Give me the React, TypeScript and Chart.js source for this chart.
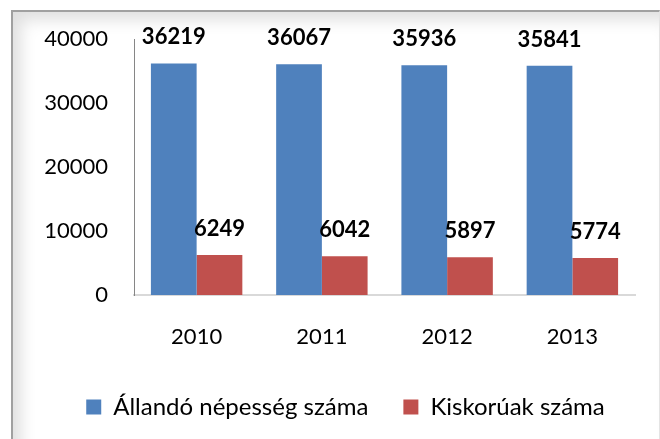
import React, { useEffect, useRef } from "react";
import { Chart, registerables } from "chart.js";

Chart.register(...registerables);

const categories = ["2010", "2011", "2012", "2013"];
const seriesNames = ["Állandó népesség száma", "Kiskorúak száma"];
const populationValues = [36219, 36067, 35936, 35841];
const minorValues = [6249, 6042, 5897, 5774];
const yTicks = [0, 10000, 20000, 30000, 40000];

const FONT = "Lato, 'Open Sans', 'Liberation Sans', sans-serif";
const LEGEND_SHIFT = 28;

const dataLabelPlugin = {
  id: "dataLabels",
  afterDatasetsDraw(chart: any) {
    const ctx = chart.ctx;
    ctx.save();
    ctx.font = `bold 22px ${FONT}`;
    ctx.fillStyle = "#000000";
    ctx.textAlign = "center";
    ctx.textBaseline = "middle";
    chart.data.datasets.forEach((ds: any, di: number) => {
      const meta = chart.getDatasetMeta(di);
      meta.data.forEach((bar: any, i: number) => {
        ctx.fillText(String(ds.data[i]), bar.x, bar.y - 26);
      });
    });
    ctx.restore();
  },
};

const legendShiftPlugin = {
  id: "legendShift",
  afterLayout(chart: any) {
    if (chart.legend) {
      chart.legend.left += LEGEND_SHIFT;
      chart.legend.right += LEGEND_SHIFT;
    }
  },
};

export default function App() {
  const ref = useRef<HTMLCanvasElement | null>(null);
  useEffect(() => {
    if (!ref.current) return;
    const chart = new Chart(ref.current, {
      type: "bar",
      data: {
        labels: categories,
        datasets: [
          {
            label: seriesNames[0],
            data: populationValues,
            backgroundColor: "#4F81BD",
            categoryPercentage: 0.73,
            barPercentage: 1,
          },
          {
            label: seriesNames[1],
            data: minorValues,
            backgroundColor: "#C0504D",
            categoryPercentage: 0.73,
            barPercentage: 1,
          },
        ],
      },
      options: {
        animation: false,
        responsive: false,
        layout: { padding: { left: 0, right: 25, top: 39, bottom: 10 } },
        plugins: {
          legend: {
            position: "bottom",
            labels: {
              boxWidth: 15,
              boxHeight: 15,
              padding: 35,
              color: "#000000",
              font: { family: FONT, size: 24 },
            },
          },
          tooltip: { enabled: false },
        },
        scales: {
          x: {
            grid: { display: false, drawTicks: false },
            border: { display: true, color: "#D9D9D9", width: 2 },
            ticks: {
              padding: 29,
              color: "#000000",
              font: { family: FONT, size: 22 },
            },
            afterFit: (s: any) => {
              s.height = 65;
            },
          },
          y: {
            min: 0,
            max: 40000,
            grid: { display: false, drawTicks: false },
            border: { display: true, color: "#868686", width: 1 },
            afterBuildTicks: (s: any) => {
              s.ticks = yTicks.map((v) => ({ value: v }));
            },
            ticks: {
              padding: 26,
              color: "#000000",
              font: { family: FONT, size: 22 },
              callback: (v: any) => String(v),
            },
            afterFit: (s: any) => {
              s.width = 134;
            },
          },
        },
      },
      plugins: [dataLabelPlugin, legendShiftPlugin],
    });
    return () => chart.destroy();
  }, []);

  return (
    <div
      style={{
        position: "fixed",
        left: 0,
        top: 0,
        width: 660,
        height: 439,
        background: "#ffffff",
        overflow: "hidden",
      }}
    >
      <div
        style={{
          position: "absolute",
          left: 11,
          top: 10,
          width: 646,
          height: 460,
          borderTop: "2px solid #a0a0a0",
          borderLeft: "2px solid #a0a0a0",
          borderRight: "1px solid #e4e4e4",
          boxShadow: "inset 10px 10px 16px -2px rgba(0,0,0,0.13)",
          background: "#ffffff",
        }}
      />
      <canvas
        ref={ref}
        width={660}
        height={439}
        style={{ position: "absolute", left: 0, top: 0, width: 660, height: 439 }}
      />
    </div>
  );
}
